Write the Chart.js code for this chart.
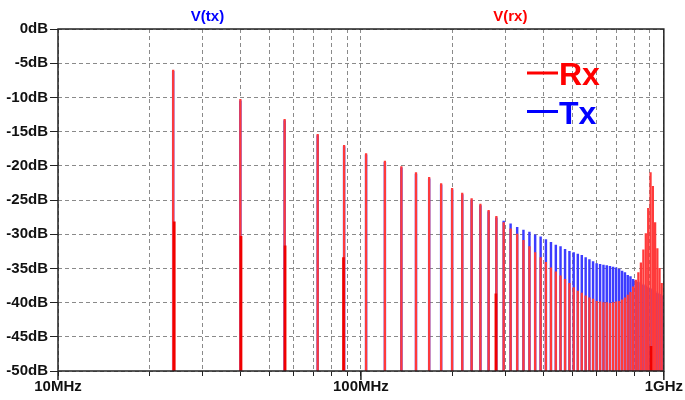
<!DOCTYPE html>
<html>
<head>
<meta charset="utf-8">
<script src="https://cdn.jsdelivr.net/npm/chart.js@4.4.1/dist/chart.umd.min.js"></script>
<style>
  body { margin: 0; background: #fff; }
</style>
</head>
<body>
<canvas id="fft" width="685" height="400"></canvas>
<script>
// harmonic frequencies (MHz)
const freqs = [
  24, 40, 56, 72, 88, 104, 120, 136, 152, 168,
  184, 200, 216, 232, 248, 264, 280, 296, 312, 328,
  344, 360, 376, 392, 408, 424, 440, 456, 472, 488,
  504, 520, 536, 552, 568, 584, 600, 616, 632, 648,
  664, 680, 696, 712, 728, 744, 760, 776, 792, 808,
  824, 840, 856, 872, 888, 904, 920, 936, 952, 968,
  984
];
// V(rx) peak levels (dB)
const rxLevels = [
  -6.0, -10.3, -13.2, -15.4, -17.0, -18.2, -19.3, -20.1, -21.0, -21.7,
  -22.6, -23.3, -24.0, -24.8, -25.6, -26.5, -27.4, -28.3, -29.2, -30.0,
  -30.9, -31.8, -32.7, -33.4, -34.1, -34.9, -35.5, -36.1, -36.6, -37.2,
  -37.8, -38.3, -38.6, -39.0, -39.3, -39.5, -39.8, -39.9, -40.0, -40.0,
  -40.1, -40.0, -39.9, -39.8, -39.6, -39.3, -38.9, -38.5, -37.7, -36.7,
  -35.6, -34.2, -32.3, -29.9, -26.2, -21.0, -23.0, -28.3, -32.1, -35.0,
  -37.2
];
// V(tx) peak levels (dB)
const txLevels = [
  -6.2, -10.5, -13.4, -15.6, -17.2, -18.4, -19.5, -20.3, -21.2, -21.9,
  -22.8, -23.5, -24.2, -25.0, -25.8, -26.7, -27.6, -28.1, -28.5, -29.0,
  -29.4, -29.7, -30.1, -30.4, -30.8, -31.2, -31.6, -31.8, -32.2, -32.5,
  -32.7, -32.9, -33.1, -33.4, -33.7, -34.0, -34.3, -34.4, -34.5, -34.6,
  -34.7, -34.8, -34.9, -35.1, -35.4, -35.6, -36.0, -36.2, -36.6, -36.8,
  -37.0, -37.2, -37.4, -37.6, -37.8, -38.0, -38.2, -38.4, -38.6, -38.8,
  -39.0
];
// neighbouring FFT bins of V(rx) (shorter spikes)
const rxLeakFreqs = [24.2, 40.2, 56.2, 87.6, 279, 907];
const rxLeakLevels = [-28.2, -30.3, -31.7, -33.4, -38.7, -46.4];

const xTicks = [10, 20, 30, 40, 50, 60, 70, 80, 90,
                100, 200, 300, 400, 500, 600, 700, 800, 900, 1000];
const decadeTicks = [10, 100, 1000];
const decadeLabels = ['10MHz', '100MHz', '1GHz'];
const yTicks = [-50, -45, -40, -35, -30, -25, -20, -15, -10, -5, 0];

const traceNames = ['V(tx)', 'V(rx)'];
const traceColors = ['#0000ff', '#ff0000'];
const legendNames = ['Rx', 'Tx'];
const legendColors = ['#ff0000', '#0000ff'];

const floorDb = -50;
const fontFamily = '"Liberation Sans", Arial, sans-serif';

function spikes(fs, levels) {
    return fs.map((f, i) => ({ x: f, y: [floorDb, levels[i]] }));
}

// frame, decade ticks, trace names and legend
const scopeDecor = {
    id: 'scopeDecor',
    afterDraw(chart) {
        const { ctx, chartArea: a, scales } = chart;
        ctx.save();
        ctx.strokeStyle = '#222';
        ctx.lineWidth = 1.5;
        ctx.strokeRect(a.left, a.top, a.right - a.left, a.bottom - a.top);

        ctx.beginPath();
        decadeTicks.forEach(v => {
            const x = scales.x.getPixelForValue(v);
            ctx.moveTo(x, a.bottom);
            ctx.lineTo(x, a.bottom + 9);
        });
        ctx.stroke();

        // trace names above the plot
        ctx.font = 'bold 15px ' + fontFamily;
        ctx.textAlign = 'center';
        ctx.textBaseline = 'middle';
        traceNames.forEach((name, i) => {
            ctx.fillStyle = traceColors[i];
            const x = a.left + (a.right - a.left) * (0.25 + 0.5 * i);
            ctx.fillText(name, x - 2, 17);
        });

        // legend
        ctx.font = 'bold 32px ' + fontFamily;
        ctx.textAlign = 'left';
        ctx.textBaseline = 'alphabetic';
        ctx.lineWidth = 3;
        legendNames.forEach((name, i) => {
            const y = 85 + i * 38.5;
            ctx.strokeStyle = legendColors[i];
            ctx.beginPath();
            ctx.moveTo(527, y - 12);
            ctx.lineTo(558, y - 12);
            ctx.stroke();
            ctx.fillStyle = legendColors[i];
            ctx.fillText(name, 559, y);
        });
        ctx.restore();
    }
};

const tickFont = { family: fontFamily, size: 15, weight: 'bold' };

new Chart(document.getElementById('fft'), {
    type: 'bar',
    data: {
        datasets: [
            {
                label: 'Rx leak',
                data: spikes(rxLeakFreqs, rxLeakLevels),
                backgroundColor: '#f00000',
                barThickness: 2,
                grouped: false
            },
            {
                label: 'Rx',
                data: spikes(freqs, rxLevels),
                backgroundColor: '#ff3a3a',
                barThickness: 1.6,
                grouped: false
            },
            {
                label: 'Tx',
                data: spikes(freqs, txLevels),
                backgroundColor: '#3c3cff',
                barThickness: 1.8,
                grouped: false
            }
        ]
    },
    options: {
        responsive: false,
        animation: false,
        events: [],
        layout: { padding: { left: 0, right: 20, top: 29, bottom: 0 } },
        plugins: {
            legend: { display: false },
            tooltip: { enabled: false }
        },
        scales: {
            x: {
                type: 'logarithmic',
                min: 10,
                max: 1000,
                offset: false,
                grid: { offset: false, color: '#8a8a8a', lineWidth: 1, tickLength: 5, tickColor: '#222' },
                border: { display: false, dash: [4, 3] },
                afterBuildTicks: s => { s.ticks = xTicks.map(v => ({ value: v })); },
                afterFit: s => { s.height = 29; },
                ticks: {
                    autoSkip: false,
                    maxRotation: 0,
                    padding: 2,
                    color: '#111',
                    font: tickFont,
                    callback: v => {
                        const i = decadeTicks.indexOf(v);
                        return i >= 0 ? decadeLabels[i] : '';
                    }
                }
            },
            y: {
                min: -50,
                max: 0,
                grid: { color: '#8a8a8a', lineWidth: 1, tickLength: 8, tickColor: '#222' },
                border: { display: false, dash: [4, 3] },
                afterBuildTicks: s => { s.ticks = yTicks.map(v => ({ value: v })); },
                afterFit: s => { s.width = 58; },
                ticks: {
                    padding: 2,
                    color: '#111',
                    font: tickFont,
                    callback: v => v + 'dB'
                }
            }
        }
    },
    plugins: [scopeDecor]
});
</script>
</body>
</html>
